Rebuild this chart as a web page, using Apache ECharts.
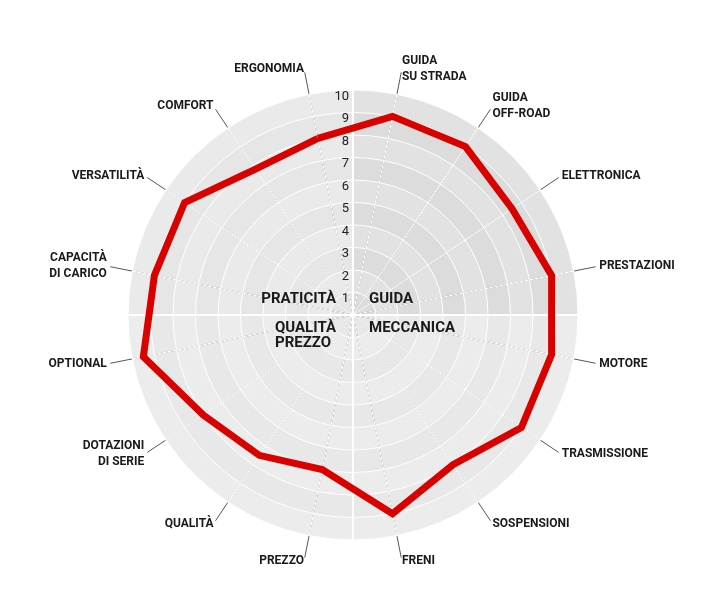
<!DOCTYPE html>
<html>
<head>
<meta charset="utf-8">
<script src="https://cdn.jsdelivr.net/npm/echarts@6/dist/echarts.min.js"></script>
<style>html,body{margin:0;padding:0;background:#fff}#main{width:711px;height:596px}</style>
</head>
<body>
<div id="main"></div>
<script>
var categories = ['GUIDA\nSU STRADA', 'GUIDA\nOFF-ROAD', 'ELETTRONICA', 'PRESTAZIONI', 'MOTORE', 'TRASMISSIONE',
    'SOSPENSIONI', 'FRENI', 'PREZZO', 'QUALITÀ', 'DOTAZIONI\nDI SERIE', 'OPTIONAL',
    'CAPACITÀ\nDI CARICO', 'VERSATILITÀ', 'COMFORT', 'ERGONOMIA'];
var values = [9, 9, 8.5, 9, 9, 9, 8, 9, 7, 7.5, 8, 9.5, 9, 9, 7.8, 8];
var groups = ['GUIDA', 'MECCANICA', 'QUALITÀ\nPREZZO', 'PRATICITÀ'];
var groupColors = ['#dcdcdc', '#e8e8e8', '#e8e8e8', '#e6e6e6'];
var tickLabels = ['', '1', '2', '3', '4', '5', '6', '7', '8', '9', '10'];

// radar runs counter-clockwise, so feed it reversed lists
var revCats = categories.slice().reverse();
var revVals = values.slice().reverse();

var chart = echarts.init(document.getElementById('main'));
var font = 'Roboto';

var option = {
    polar: { center: [353, 315], radius: 225 },
    angleAxis: {
        type: 'category', data: groups, startAngle: 90, clockwise: true,
        axisLine: { show: false }, axisTick: { show: false }, axisLabel: { show: false },
        splitLine: { show: false }
    },
    radiusAxis: {
        min: 0, max: 10, interval: 1,
        axisLine: { show: false }, axisTick: { show: false }, splitLine: { show: false },
        axisLabel: {
            formatter: function (v) { return tickLabels[v] || ''; },
            fontFamily: font, fontSize: 13, color: '#222', verticalAlign: 'top', margin: 4
        },
        z: 10
    },
    radar: [{
        center: [353, 315], radius: 247, startAngle: 101.25, shape: 'circle', z: 3,
        indicator: revCats.map(function (c) { return { name: c, max: 10 }; }),
        splitNumber: 1,
        axisName: { color: '#1a1a1a', fontFamily: font, fontWeight: 'bold', fontSize: 12, lineHeight: 16 },
        nameGap: 4,
        axisLine: { lineStyle: { color: '#555', width: 1 } },
        splitLine: { show: false }, splitArea: { show: false }
    }, {
        center: [353, 315], radius: 225, startAngle: 101.25, shape: 'circle', z: 4,
        indicator: revCats.map(function () { return { name: '', max: 10 }; }),
        splitNumber: 10,
        axisName: { show: false },
        axisLine: { lineStyle: { color: '#fff', width: 1.2 } },
        splitLine: { lineStyle: { color: '#fff', width: 1 } },
        splitArea: { areaStyle: { color: ['rgba(255,255,255,0)', 'rgba(255,255,255,0.18)'] } }
    }],
    graphic: [
        { type: 'line', shape: { x1: 353, y1: 90, x2: 353, y2: 540 }, style: { stroke: '#fff', lineWidth: 2 }, z: 5 },
        { type: 'line', shape: { x1: 128, y1: 315, x2: 578, y2: 315 }, style: { stroke: '#fff', lineWidth: 2 }, z: 5 },
        { type: 'text', left: 369, top: 292, style: { text: 'GUIDA', font: 'bold 15px Roboto', fill: '#1a1a1a' }, z: 20 },
        { type: 'text', left: 369, top: 321, style: { text: 'MECCANICA', font: 'bold 15px Roboto', fill: '#1a1a1a' }, z: 20 },
        { type: 'text', right: 711 - 336, top: 292, style: { text: 'PRATICITÀ', font: 'bold 15px Roboto', fill: '#1a1a1a' }, z: 20 },
        { type: 'text', right: 711 - 336, top: 321, style: { text: 'QUALITÀ\nPREZZO', font: 'bold 15px Roboto', fill: '#1a1a1a', align: 'right', lineHeight: 15 }, z: 20 }
    ],
    series: [{
        type: 'bar', coordinateSystem: 'polar', data: groups.map(function (g, i) {
            return { value: 10, itemStyle: { color: groupColors[i] } };
        }),
        barCategoryGap: 0, silent: true, z: 1
    }, {
        type: 'radar', radarIndex: 1, z: 8, symbol: 'none',
        lineStyle: { color: '#d90000', width: 7, join: 'miter' },
        data: [{ value: revVals }]
    }]
};
chart.setOption(option);
</script>
</body>
</html>
